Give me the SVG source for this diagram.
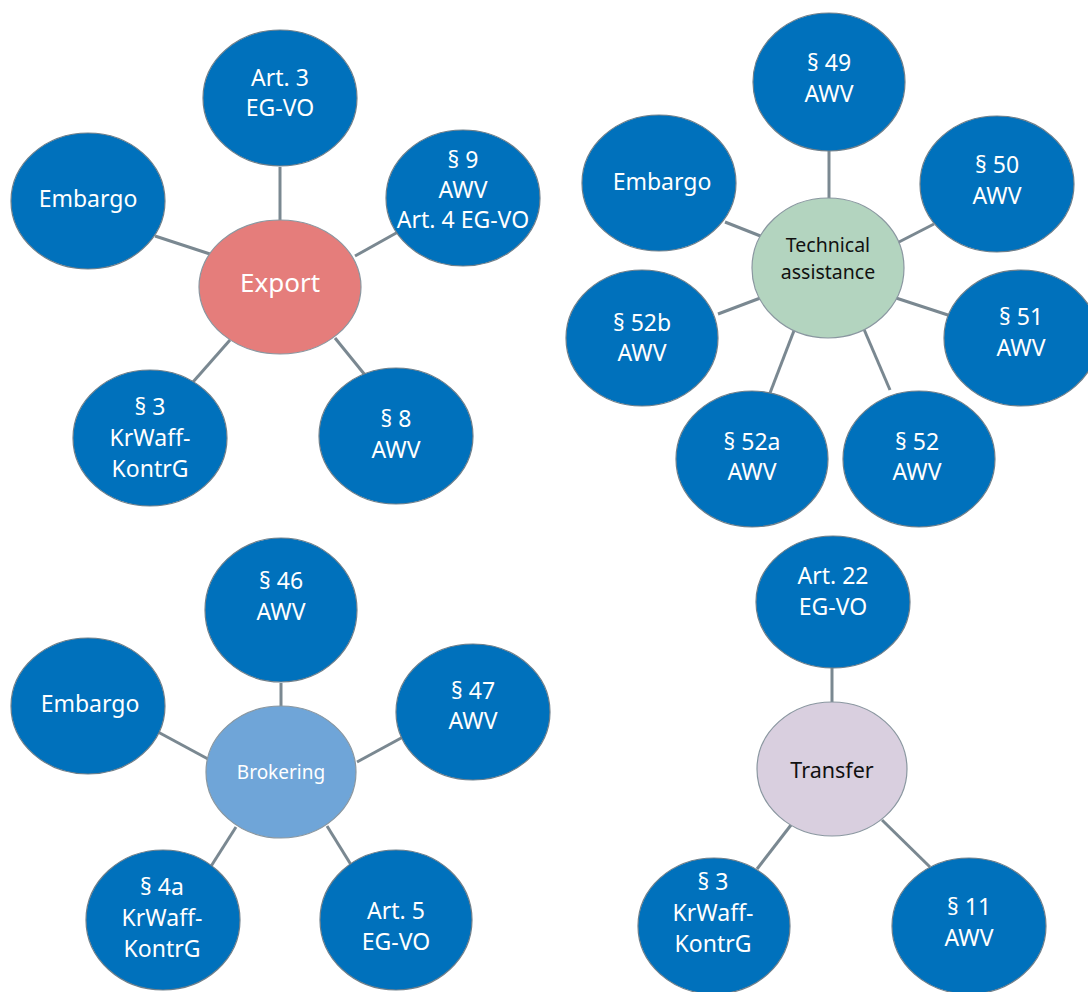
<svg xmlns="http://www.w3.org/2000/svg" width="1088" height="992" viewBox="0 0 1088 992">
  <style>
    .leaf { fill: #0071bc; stroke: #6f7f8a; stroke-width: 1.2; }
    .hub { stroke: #8a97a0; stroke-width: 1.2; }
    .lt { font-family: "Noto Sans", "Open Sans", sans-serif; font-size: 23px; fill: #ffffff; text-anchor: middle; }
    .ht { font-family: "Noto Sans", "Open Sans", sans-serif; text-anchor: middle; }
    .edge { stroke: #7a8891; stroke-width: 3; fill: none; }
  </style>
  <rect width="1088" height="992" fill="#ffffff"/>

  <!-- connectors -->
  <g id="connectors">
    <!-- Export -->
    <line class="edge" x1="280" y1="167" x2="280" y2="220"/>
    <line class="edge" x1="155" y1="236" x2="210" y2="254"/>
    <line class="edge" x1="398" y1="232" x2="355" y2="256"/>
    <line class="edge" x1="193" y1="382" x2="230" y2="340"/>
    <line class="edge" x1="365" y1="375" x2="335" y2="338"/>
    <!-- Technical assistance -->
    <line class="edge" x1="829" y1="151" x2="829" y2="199"/>
    <line class="edge" x1="725" y1="222" x2="763" y2="237"/>
    <line class="edge" x1="934" y1="224" x2="897" y2="243"/>
    <line class="edge" x1="718" y1="314" x2="763" y2="297"/>
    <line class="edge" x1="951" y1="316" x2="896" y2="298"/>
    <line class="edge" x1="770" y1="393" x2="795" y2="328"/>
    <line class="edge" x1="890" y1="390" x2="860" y2="320"/>
    <!-- Brokering -->
    <line class="edge" x1="281" y1="683" x2="281" y2="707"/>
    <line class="edge" x1="158" y1="732" x2="208" y2="759"/>
    <line class="edge" x1="403" y1="737" x2="357" y2="762"/>
    <line class="edge" x1="208" y1="871" x2="236" y2="827"/>
    <line class="edge" x1="353" y1="868" x2="327" y2="826"/>
    <!-- Transfer -->
    <line class="edge" x1="832" y1="667" x2="832" y2="702"/>
    <line class="edge" x1="757" y1="869" x2="791" y2="825"/>
    <line class="edge" x1="930" y1="867" x2="882" y2="820"/>
  </g>

  <!-- Export cluster -->
  <g id="export-art3">
    <ellipse class="leaf" cx="280" cy="98" rx="77" ry="68"/>
    <text class="lt" x="280" y="86">Art. 3</text>
    <text class="lt" x="280" y="116">EG-VO</text>
  </g>
  <g id="export-embargo">
    <ellipse class="leaf" cx="88" cy="201" rx="77" ry="68"/>
    <text class="lt" x="88" y="207">Embargo</text>
  </g>
  <g id="export-par9">
    <ellipse class="leaf" cx="463" cy="198" rx="77" ry="68"/>
    <text class="lt" x="463" y="168">§ 9</text>
    <text class="lt" x="463" y="198">AWV</text>
    <text class="lt" x="463" y="228">Art. 4 EG-VO</text>
  </g>
  <g id="export-hub">
    <ellipse class="hub" cx="280" cy="287" rx="81" ry="67" fill="#e57d7b"/>
    <text class="ht" x="280" y="292" font-size="26" fill="#ffffff">Export</text>
  </g>
  <g id="export-par3">
    <ellipse class="leaf" cx="150" cy="438" rx="77" ry="68"/>
    <text class="lt" x="150" y="415">§ 3</text>
    <text class="lt" x="150" y="446">KrWaff-</text>
    <text class="lt" x="150" y="477">KontrG</text>
  </g>
  <g id="export-par8">
    <ellipse class="leaf" cx="396" cy="436" rx="77" ry="68"/>
    <text class="lt" x="396" y="427">§ 8</text>
    <text class="lt" x="396" y="458">AWV</text>
  </g>

  <!-- Technical assistance cluster -->
  <g id="ta-par49">
    <ellipse class="leaf" cx="829" cy="82" rx="76" ry="69"/>
    <text class="lt" x="829" y="71">§ 49</text>
    <text class="lt" x="829" y="102">AWV</text>
  </g>
  <g id="ta-embargo">
    <ellipse class="leaf" cx="659" cy="183" rx="77" ry="68"/>
    <text class="lt" x="662" y="190">Embargo</text>
  </g>
  <g id="ta-par50">
    <ellipse class="leaf" cx="997" cy="184" rx="77" ry="68"/>
    <text class="lt" x="997" y="173">§ 50</text>
    <text class="lt" x="997" y="204">AWV</text>
  </g>
  <g id="ta-hub">
    <ellipse class="hub" cx="828" cy="268" rx="76" ry="70" fill="#b3d4bf"/>
    <text class="ht" x="828" y="252" font-size="19.5" fill="#111111">Technical</text>
    <text class="ht" x="828" y="279" font-size="19.5" fill="#111111">assistance</text>
  </g>
  <g id="ta-par52b">
    <ellipse class="leaf" cx="642" cy="338" rx="76" ry="68"/>
    <text class="lt" x="642" y="331">§ 52b</text>
    <text class="lt" x="642" y="361">AWV</text>
  </g>
  <g id="ta-par51">
    <ellipse class="leaf" cx="1021" cy="338" rx="77" ry="68"/>
    <text class="lt" x="1021" y="325">§ 51</text>
    <text class="lt" x="1021" y="356">AWV</text>
  </g>
  <g id="ta-par52a">
    <ellipse class="leaf" cx="752" cy="459" rx="76" ry="68"/>
    <text class="lt" x="752" y="450">§ 52a</text>
    <text class="lt" x="752" y="480">AWV</text>
  </g>
  <g id="ta-par52">
    <ellipse class="leaf" cx="919" cy="459" rx="76" ry="68"/>
    <text class="lt" x="917" y="450">§ 52</text>
    <text class="lt" x="917" y="480">AWV</text>
  </g>

  <!-- Brokering cluster -->
  <g id="br-par46">
    <ellipse class="leaf" cx="281" cy="610" rx="76" ry="72"/>
    <text class="lt" x="281" y="589">§ 46</text>
    <text class="lt" x="281" y="620">AWV</text>
  </g>
  <g id="br-embargo">
    <ellipse class="leaf" cx="88" cy="706" rx="77" ry="68"/>
    <text class="lt" x="90" y="712">Embargo</text>
  </g>
  <g id="br-par47">
    <ellipse class="leaf" cx="473" cy="712" rx="77" ry="68"/>
    <text class="lt" x="473" y="699">§ 47</text>
    <text class="lt" x="473" y="729">AWV</text>
  </g>
  <g id="br-hub">
    <ellipse class="hub" cx="281" cy="772" rx="75" ry="66" fill="#6fa5d8"/>
    <text class="ht" x="281" y="779" font-size="19" fill="#ffffff">Brokering</text>
  </g>
  <g id="br-par4a">
    <ellipse class="leaf" cx="163" cy="920" rx="77" ry="70"/>
    <text class="lt" x="162" y="895">§ 4a</text>
    <text class="lt" x="162" y="926">KrWaff-</text>
    <text class="lt" x="162" y="957">KontrG</text>
  </g>
  <g id="br-art5">
    <ellipse class="leaf" cx="396" cy="920" rx="76" ry="70"/>
    <text class="lt" x="396" y="919">Art. 5</text>
    <text class="lt" x="396" y="950">EG-VO</text>
  </g>

  <!-- Transfer cluster -->
  <g id="tr-art22">
    <ellipse class="leaf" cx="833" cy="602" rx="77" ry="66"/>
    <text class="lt" x="833" y="584">Art. 22</text>
    <text class="lt" x="833" y="615">EG-VO</text>
  </g>
  <g id="tr-hub">
    <ellipse class="hub" cx="832" cy="769" rx="75" ry="67" fill="#d9cfdf"/>
    <text class="ht" x="832" y="778" font-size="21.5" fill="#111111">Transfer</text>
  </g>
  <g id="tr-par3">
    <ellipse class="leaf" cx="714" cy="926" rx="76" ry="68"/>
    <text class="lt" x="713" y="890">§ 3</text>
    <text class="lt" x="713" y="921">KrWaff-</text>
    <text class="lt" x="713" y="952">KontrG</text>
  </g>
  <g id="tr-par11">
    <ellipse class="leaf" cx="969" cy="926" rx="77" ry="68"/>
    <text class="lt" x="969" y="915">§ 11</text>
    <text class="lt" x="969" y="946">AWV</text>
  </g>
</svg>
